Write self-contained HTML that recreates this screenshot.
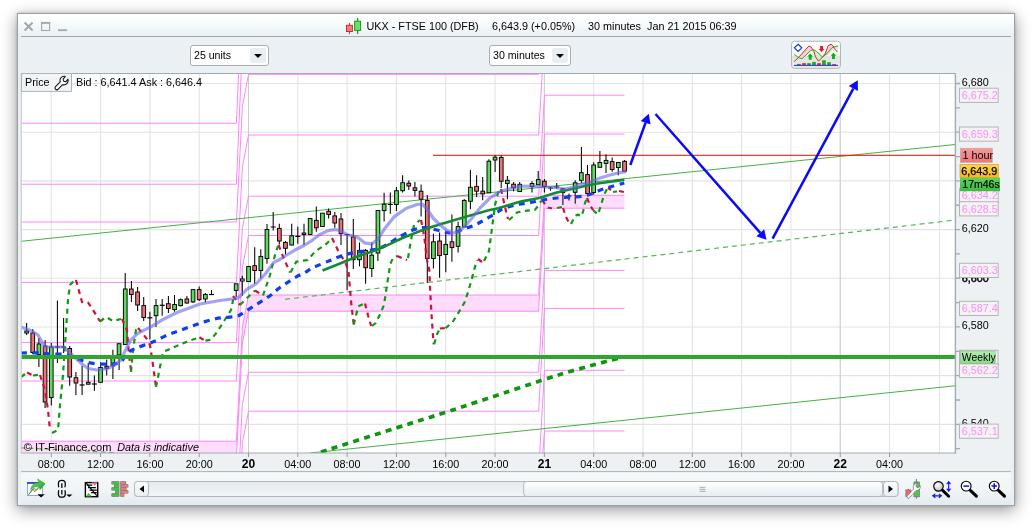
<!DOCTYPE html>
<html><head><meta charset="utf-8"><title>UKX - FTSE 100 (DFB)</title>
<style>
html,body{margin:0;padding:0;background:#fff;}
body{width:1032px;height:527px;overflow:hidden;position:relative;font-family:"Liberation Sans",sans-serif;font-size:11px;color:#000;}
#win{position:absolute;left:17px;top:13px;width:996px;height:491px;border:1px solid #9aa2a6;background:#eaf0f3;box-shadow:0 4px 15px rgba(0,0,0,.42), 0 0 3px rgba(0,0,0,.2);}
#title{position:absolute;left:0;top:0;width:996px;height:23px;background:linear-gradient(#ffffff,#f8fbfc 40%,#e8eff3);}
#tsep{position:absolute;left:3px;top:21.6px;width:990px;height:1px;background:#a3a8ab;}
#tool{position:absolute;left:0;top:24px;width:996px;height:36px;background:#eaf0f3;}
#bot{position:absolute;left:3px;top:459px;width:990px;height:32px;background:linear-gradient(#f6f9fa,#f1f5f7 50%,#e3ebef);}
#axr{position:absolute;left:938px;top:60px;width:55px;height:399px;background:#eef1f3;}
#axb{position:absolute;left:3px;top:440px;width:990px;height:17.3px;background:#eef1f3;border-bottom:1px solid #b4b8ba;}
svg{position:absolute;left:0;top:0;will-change:transform;}
svg text{font-family:"Liberation Sans",sans-serif;font-size:10.8px;fill:#000;}
.dd{position:absolute;top:45px;height:21px;border:1px solid #a9adb0;border-radius:3px;background:#fff;box-sizing:border-box;line-height:19px;padding-left:3px;font-size:10.6px;will-change:transform;}
.dd i{position:absolute;right:2px;top:2px;width:16px;height:15px;background:#e9eef2;border-radius:2px;}
.dd i:after{content:"";position:absolute;left:4px;top:6px;border-left:4px solid transparent;border-right:4px solid transparent;border-top:4.5px solid #000;}
</style></head><body>
<div id="win"><div id="title"></div><div id="tsep"></div><div id="tool"></div><div id="axr"></div><div id="axb"></div><div id="bot"></div></div>
<div class="dd" style="left:190px;width:79px;">25 units<i></i></div>
<div class="dd" style="left:489px;width:82px;">30 minutes<i></i></div>

<svg width="1032" height="527" viewBox="0 0 1032 527">
<rect x="21" y="73.5" width="934" height="379.5" fill="#fff"/>
<defs><clipPath id="cc"><rect x="21" y="73.5" width="934" height="379.5"/></clipPath></defs>
<g clip-path="url(#cc)">
<path d="M51.25 73.5V453 M100.56 73.5V453 M149.88 73.5V453 M199.19 73.5V453 M248.50 73.5V453 M297.81 73.5V453 M347.12 73.5V453 M396.44 73.5V453 M445.75 73.5V453 M495.06 73.5V453 M544.38 73.5V453 M593.69 73.5V453 M643.00 73.5V453 M692.31 73.5V453 M741.62 73.5V453 M790.94 73.5V453 M840.25 73.5V453 M889.56 73.5V453 M939.50 73.5V453 M21 83.50H955 M21 132.19H955 M21 180.88H955 M21 229.58H955 M21 278.27H955 M21 326.96H955 M21 375.65H955 M21 424.34H955" stroke="#e4e4e5" stroke-width="1.1" fill="none"/>
<path d="M248.50 73.5V453" stroke="#cdcdcd" stroke-width="1"/>
<path d="M544.38 73.5V453" stroke="#cdcdcd" stroke-width="1"/>
<path d="M840.25 73.5V453" stroke="#cdcdcd" stroke-width="1"/>
<path d="M21 441.2H236.4L242.4 327L248.5 295H538.6L544.5 195.3H624.5V208.2H544.5L538.6 311.2H248.5L242.4 343.2L236.4 457.2H21Z" fill="#ffdcfb"/>
<path d="M21 123.25H236.4L242.4 -16L248.5 -48H538.6 M21 184.25H236.4L242.4 45L248.5 13H538.6 M21 222H236.4L242.4 106.3L248.5 74.3H538.6 M21 282.4H236.4L242.4 167L248.5 135H538.6 M21 342.6H236.4L242.4 228.2L248.5 196.2H538.6 M21 381H236.4L242.4 267.5L248.5 235.5H538.6 M21 441.2H236.4L242.4 327L248.5 295H538.6 M21 457.2H236.4L242.4 343.2L248.5 311.2H538.6 M21 518H236.4L242.4 404.3L248.5 372.3H538.6 M21 556H236.4L242.4 443.2L248.5 411.2H538.6 M538.6 -48L544.5 -188 M538.6 13L544.5 -66H624.5 M538.6 74.3L544.5 -5H624.5 M538.6 135L544.5 34H624.5 M538.6 196.2L544.5 95.2H624.5 M538.6 235.5L544.5 134H624.5 M538.6 295L544.5 195.3H624.5 M538.6 311.2L544.5 208.2H624.5 M538.6 372.3L544.5 270.4H624.5 M538.6 411.2L544.5 308.4H624.5 M538.6 472.3L544.5 370.3H624.5 M538.6 511.2L544.5 431H624.5" stroke="#ff85ff" stroke-width="1" fill="none"/>
<path d="M21 241.3L955 144.5" stroke="#44b244" stroke-width="1" fill="none"/>
<path d="M310 453L955 385.8" stroke="#44b244" stroke-width="1" fill="none"/>
<path d="M285 299.3L955 220" stroke="#55b855" stroke-width="1.2" stroke-dasharray="5 4" fill="none"/>
<path d="M21 447.8C45 449 80 450.5 114 452.7" stroke="#4cb84c" stroke-width="1.2" stroke-dasharray="4.5 3.5" fill="none"/>
<path d="M433 155.3H955" stroke="#ff0000" stroke-width="1" fill="none"/>
<path d="M26.6 323V335" stroke="#000" stroke-width="1.05"/>
<rect x="24.8" y="331" width="3.7" height="2.0" fill="#5cdc5c" stroke="#000" stroke-width="0.95"/>
<path d="M32.8 329V354" stroke="#000" stroke-width="1.05"/>
<rect x="30.9" y="333" width="3.7" height="19.5" fill="#ee7272" stroke="#000" stroke-width="0.95"/>
<path d="M38.9 338V367" stroke="#000" stroke-width="1.05"/>
<rect x="37.1" y="344" width="3.7" height="10.5" fill="#5cdc5c" stroke="#000" stroke-width="0.95"/>
<path d="M45.1 340V408" stroke="#000" stroke-width="1.05"/>
<rect x="43.2" y="346" width="3.7" height="56.0" fill="#ee7272" stroke="#000" stroke-width="0.95"/>
<path d="M51.3 343V405.6" stroke="#000" stroke-width="1.05"/>
<rect x="49.4" y="347" width="3.7" height="50.6" fill="#5cdc5c" stroke="#000" stroke-width="0.95"/>
<path d="M57.4 300.5V363" stroke="#000" stroke-width="1.05"/>
<path d="M54.9 347H59.9" stroke="#000" stroke-width="1.2"/>
<path d="M63.6 318V353" stroke="#000" stroke-width="1.05"/>
<path d="M61.1 347H66.1" stroke="#000" stroke-width="1.2"/>
<path d="M69.7 346V385.7" stroke="#000" stroke-width="1.05"/>
<rect x="67.9" y="348.5" width="3.7" height="28.5" fill="#ee7272" stroke="#000" stroke-width="0.95"/>
<path d="M75.9 372V395" stroke="#000" stroke-width="1.05"/>
<rect x="74.1" y="377.7" width="3.7" height="5.3" fill="#ee7272" stroke="#000" stroke-width="0.95"/>
<path d="M82.1 365.7V395" stroke="#000" stroke-width="1.05"/>
<path d="M79.6 385H84.6" stroke="#000" stroke-width="1.2"/>
<path d="M88.2 363V384.5" stroke="#000" stroke-width="1.05"/>
<rect x="86.4" y="382.3" width="3.7" height="1.9" fill="#5cdc5c" stroke="#000" stroke-width="0.95"/>
<path d="M94.4 375.4V390.8" stroke="#000" stroke-width="1.05"/>
<path d="M91.9 384H96.9" stroke="#000" stroke-width="1.2"/>
<path d="M100.6 362.3V383" stroke="#000" stroke-width="1.05"/>
<rect x="98.7" y="367.5" width="3.7" height="14.8" fill="#5cdc5c" stroke="#000" stroke-width="0.95"/>
<path d="M106.7 359.5V375.4" stroke="#000" stroke-width="1.05"/>
<rect x="104.9" y="366.3" width="3.7" height="1.9" fill="#ee7272" stroke="#000" stroke-width="0.95"/>
<path d="M112.9 349.8V378.9" stroke="#000" stroke-width="1.05"/>
<rect x="111.0" y="357.5" width="3.7" height="8.3" fill="#5cdc5c" stroke="#000" stroke-width="0.95"/>
<path d="M119.1 343.7V370" stroke="#000" stroke-width="1.05"/>
<rect x="117.2" y="343.7" width="3.7" height="11.3" fill="#5cdc5c" stroke="#000" stroke-width="0.95"/>
<path d="M125.2 273V344.5" stroke="#000" stroke-width="1.05"/>
<rect x="123.4" y="289" width="3.7" height="55.5" fill="#5cdc5c" stroke="#000" stroke-width="0.95"/>
<path d="M131.4 281V302" stroke="#000" stroke-width="1.05"/>
<rect x="129.5" y="289" width="3.7" height="5.5" fill="#ee7272" stroke="#000" stroke-width="0.95"/>
<path d="M137.6 287V311" stroke="#000" stroke-width="1.05"/>
<rect x="135.7" y="292" width="3.7" height="13.0" fill="#ee7272" stroke="#000" stroke-width="0.95"/>
<path d="M143.7 297V321" stroke="#000" stroke-width="1.05"/>
<rect x="141.9" y="305.6" width="3.7" height="11.9" fill="#ee7272" stroke="#000" stroke-width="0.95"/>
<path d="M149.9 311.7V339.6" stroke="#000" stroke-width="1.05"/>
<path d="M147.4 317.8H152.4" stroke="#000" stroke-width="1.2"/>
<path d="M156.0 299V327" stroke="#000" stroke-width="1.05"/>
<rect x="154.2" y="305.6" width="3.7" height="10.1" fill="#5cdc5c" stroke="#000" stroke-width="0.95"/>
<path d="M162.2 299V315.7" stroke="#000" stroke-width="1.05"/>
<path d="M159.7 305.3H164.7" stroke="#000" stroke-width="1.2"/>
<path d="M168.4 296V313" stroke="#000" stroke-width="1.05"/>
<rect x="166.5" y="303.7" width="3.7" height="4.8" fill="#ee7272" stroke="#000" stroke-width="0.95"/>
<path d="M174.5 295V311.7" stroke="#000" stroke-width="1.05"/>
<rect x="172.7" y="304.5" width="3.7" height="5.1" fill="#5cdc5c" stroke="#000" stroke-width="0.95"/>
<path d="M180.7 298.5V306.5" stroke="#000" stroke-width="1.05"/>
<rect x="178.8" y="299.7" width="3.7" height="5.9" fill="#5cdc5c" stroke="#000" stroke-width="0.95"/>
<path d="M186.9 296V303.7" stroke="#000" stroke-width="1.05"/>
<rect x="185.0" y="299" width="3.7" height="4.0" fill="#ee7272" stroke="#000" stroke-width="0.95"/>
<path d="M193.0 289.6V303" stroke="#000" stroke-width="1.05"/>
<rect x="191.2" y="289.6" width="3.7" height="12.3" fill="#5cdc5c" stroke="#000" stroke-width="0.95"/>
<path d="M199.2 286.4V301" stroke="#000" stroke-width="1.05"/>
<rect x="197.3" y="289.6" width="3.7" height="10.1" fill="#ee7272" stroke="#000" stroke-width="0.95"/>
<path d="M205.4 293V302.4" stroke="#000" stroke-width="1.05"/>
<rect x="203.5" y="294.4" width="3.7" height="4.6" fill="#5cdc5c" stroke="#000" stroke-width="0.95"/>
<path d="M211.5 290V294.5" stroke="#000" stroke-width="1.05"/>
<path d="M209.0 294.5H214.0" stroke="#000" stroke-width="1.2"/>
<path d="M236.2 283.8V297" stroke="#000" stroke-width="1.05"/>
<rect x="234.3" y="283.8" width="3.7" height="6.6" fill="#5cdc5c" stroke="#000" stroke-width="0.95"/>
<path d="M242.3 275.8V295.7" stroke="#000" stroke-width="1.05"/>
<rect x="240.5" y="279" width="3.7" height="2.0" fill="#d8d8d8" stroke="#000" stroke-width="0.95"/>
<path d="M248.5 266.5V281.6" stroke="#000" stroke-width="1.05"/>
<rect x="246.7" y="266.5" width="3.7" height="15.1" fill="#5cdc5c" stroke="#000" stroke-width="0.95"/>
<path d="M254.7 247.3V283.8" stroke="#000" stroke-width="1.05"/>
<rect x="252.8" y="265.7" width="3.7" height="4.8" fill="#ee7272" stroke="#000" stroke-width="0.95"/>
<path d="M260.8 249.2V278.5" stroke="#000" stroke-width="1.05"/>
<rect x="259.0" y="256.4" width="3.7" height="14.1" fill="#5cdc5c" stroke="#000" stroke-width="0.95"/>
<path d="M267.0 224V263.8" stroke="#000" stroke-width="1.05"/>
<rect x="265.1" y="229.5" width="3.7" height="29.0" fill="#5cdc5c" stroke="#000" stroke-width="0.95"/>
<path d="M273.2 211.9V230.5" stroke="#000" stroke-width="1.05"/>
<path d="M270.7 227H275.7" stroke="#000" stroke-width="1.2"/>
<path d="M279.3 223.8V244.6" stroke="#000" stroke-width="1.05"/>
<rect x="277.5" y="228.4" width="3.7" height="12.6" fill="#ee7272" stroke="#000" stroke-width="0.95"/>
<path d="M285.5 241V254.4" stroke="#000" stroke-width="1.05"/>
<rect x="283.6" y="242.4" width="3.7" height="5.9" fill="#ee7272" stroke="#000" stroke-width="0.95"/>
<path d="M291.7 223.8V245.6" stroke="#000" stroke-width="1.05"/>
<rect x="289.8" y="235.8" width="3.7" height="9.2" fill="#5cdc5c" stroke="#000" stroke-width="0.95"/>
<path d="M297.8 226.5V243.8" stroke="#000" stroke-width="1.05"/>
<path d="M295.3 236.3H300.3" stroke="#000" stroke-width="1.2"/>
<path d="M304.0 223.8V245" stroke="#000" stroke-width="1.05"/>
<rect x="302.1" y="233" width="3.7" height="1.5" fill="#5cdc5c" stroke="#000" stroke-width="0.95"/>
<path d="M310.1 218.5V234.5" stroke="#000" stroke-width="1.05"/>
<rect x="308.3" y="218.5" width="3.7" height="16.0" fill="#5cdc5c" stroke="#000" stroke-width="0.95"/>
<path d="M316.3 206.5V231.8" stroke="#000" stroke-width="1.05"/>
<rect x="314.5" y="220.4" width="3.7" height="7.4" fill="#ee7272" stroke="#000" stroke-width="0.95"/>
<path d="M322.5 213.2V226.5" stroke="#000" stroke-width="1.05"/>
<rect x="320.6" y="213.2" width="3.7" height="13.3" fill="#5cdc5c" stroke="#000" stroke-width="0.95"/>
<path d="M328.6 208.4V218.5" stroke="#000" stroke-width="1.05"/>
<rect x="326.8" y="211.3" width="3.7" height="3.2" fill="#ee7272" stroke="#000" stroke-width="0.95"/>
<path d="M334.8 211.9V227.8" stroke="#000" stroke-width="1.05"/>
<rect x="332.9" y="215.9" width="3.7" height="7.1" fill="#ee7272" stroke="#000" stroke-width="0.95"/>
<path d="M341.0 213V245" stroke="#000" stroke-width="1.05"/>
<rect x="339.1" y="219" width="3.7" height="14.7" fill="#ee7272" stroke="#000" stroke-width="0.95"/>
<path d="M347.1 234.5V290.3" stroke="#000" stroke-width="1.05"/>
<path d="M344.6 234.5H349.6" stroke="#000" stroke-width="1.2"/>
<path d="M353.3 219V269" stroke="#000" stroke-width="1.05"/>
<rect x="351.4" y="237" width="3.7" height="22.7" fill="#ee7272" stroke="#000" stroke-width="0.95"/>
<path d="M359.5 242.4V266.4" stroke="#000" stroke-width="1.05"/>
<rect x="357.6" y="250.4" width="3.7" height="9.3" fill="#5cdc5c" stroke="#000" stroke-width="0.95"/>
<path d="M365.6 249V283.7" stroke="#000" stroke-width="1.05"/>
<rect x="363.8" y="250.4" width="3.7" height="17.3" fill="#ee7272" stroke="#000" stroke-width="0.95"/>
<path d="M371.8 242.4V277" stroke="#000" stroke-width="1.05"/>
<rect x="369.9" y="255.2" width="3.7" height="13.3" fill="#5cdc5c" stroke="#000" stroke-width="0.95"/>
<path d="M377.9 210.5V261" stroke="#000" stroke-width="1.05"/>
<rect x="376.1" y="210.5" width="3.7" height="42.5" fill="#5cdc5c" stroke="#000" stroke-width="0.95"/>
<path d="M384.1 192.8V221.5" stroke="#000" stroke-width="1.05"/>
<rect x="382.3" y="204.2" width="3.7" height="6.4" fill="#5cdc5c" stroke="#000" stroke-width="0.95"/>
<path d="M390.3 192.5V213.8" stroke="#000" stroke-width="1.05"/>
<path d="M387.8 204.5H392.8" stroke="#000" stroke-width="1.2"/>
<path d="M396.4 187V211" stroke="#000" stroke-width="1.05"/>
<rect x="394.6" y="190.7" width="3.7" height="13.8" fill="#5cdc5c" stroke="#000" stroke-width="0.95"/>
<path d="M402.6 175.3V192.5" stroke="#000" stroke-width="1.05"/>
<rect x="400.8" y="182.7" width="3.7" height="8.0" fill="#5cdc5c" stroke="#000" stroke-width="0.95"/>
<path d="M408.8 180.6V190" stroke="#000" stroke-width="1.05"/>
<rect x="406.9" y="183.2" width="3.7" height="2.8" fill="#ee7272" stroke="#000" stroke-width="0.95"/>
<path d="M414.9 182V196.5" stroke="#000" stroke-width="1.05"/>
<rect x="413.1" y="187.8" width="3.7" height="2.6" fill="#ee7272" stroke="#000" stroke-width="0.95"/>
<path d="M421.1 184.6V216.5" stroke="#000" stroke-width="1.05"/>
<rect x="419.2" y="191.2" width="3.7" height="8.0" fill="#ee7272" stroke="#000" stroke-width="0.95"/>
<path d="M427.3 195V283" stroke="#000" stroke-width="1.05"/>
<rect x="425.4" y="200.5" width="3.7" height="58.0" fill="#ee7272" stroke="#000" stroke-width="0.95"/>
<path d="M433.4 233.8V268.4" stroke="#000" stroke-width="1.05"/>
<rect x="431.6" y="241.8" width="3.7" height="16.7" fill="#5cdc5c" stroke="#000" stroke-width="0.95"/>
<path d="M439.6 232.4V277.7" stroke="#000" stroke-width="1.05"/>
<rect x="437.7" y="241" width="3.7" height="14.6" fill="#ee7272" stroke="#000" stroke-width="0.95"/>
<path d="M445.8 231V272.3" stroke="#000" stroke-width="1.05"/>
<rect x="443.9" y="244.4" width="3.7" height="10.1" fill="#5cdc5c" stroke="#000" stroke-width="0.95"/>
<path d="M451.9 214.6V261.7" stroke="#000" stroke-width="1.05"/>
<rect x="450.1" y="241.8" width="3.7" height="5.8" fill="#ee7272" stroke="#000" stroke-width="0.95"/>
<path d="M458.1 221.8V252.4" stroke="#000" stroke-width="1.05"/>
<rect x="456.2" y="226.6" width="3.7" height="19.7" fill="#5cdc5c" stroke="#000" stroke-width="0.95"/>
<path d="M464.2 199V227" stroke="#000" stroke-width="1.05"/>
<rect x="462.4" y="200.5" width="3.7" height="26.5" fill="#5cdc5c" stroke="#000" stroke-width="0.95"/>
<path d="M470.4 170V209.3" stroke="#000" stroke-width="1.05"/>
<rect x="468.6" y="187.3" width="3.7" height="14.0" fill="#5cdc5c" stroke="#000" stroke-width="0.95"/>
<path d="M476.6 175.2V197" stroke="#000" stroke-width="1.05"/>
<rect x="474.7" y="186.4" width="3.7" height="4.8" fill="#ee7272" stroke="#000" stroke-width="0.95"/>
<path d="M482.7 177V200.3" stroke="#000" stroke-width="1.05"/>
<rect x="480.9" y="191.2" width="3.7" height="2.7" fill="#ee7272" stroke="#000" stroke-width="0.95"/>
<path d="M488.9 159.3V193" stroke="#000" stroke-width="1.05"/>
<rect x="487.0" y="161.2" width="3.7" height="31.6" fill="#5cdc5c" stroke="#000" stroke-width="0.95"/>
<path d="M495.1 155.2V172" stroke="#000" stroke-width="1.05"/>
<rect x="493.2" y="157.2" width="3.7" height="2.8" fill="#5cdc5c" stroke="#000" stroke-width="0.95"/>
<path d="M501.2 155.2V188" stroke="#000" stroke-width="1.05"/>
<rect x="499.4" y="157.4" width="3.7" height="23.8" fill="#ee7272" stroke="#000" stroke-width="0.95"/>
<path d="M507.4 176V199.2" stroke="#000" stroke-width="1.05"/>
<rect x="505.5" y="180.3" width="3.7" height="3.1" fill="#5cdc5c" stroke="#000" stroke-width="0.95"/>
<path d="M513.6 182V191.3" stroke="#000" stroke-width="1.05"/>
<rect x="511.7" y="184.2" width="3.7" height="3.6" fill="#ee7272" stroke="#000" stroke-width="0.95"/>
<path d="M519.7 182V192" stroke="#000" stroke-width="1.05"/>
<rect x="517.9" y="184.3" width="3.7" height="7.2" fill="#5cdc5c" stroke="#000" stroke-width="0.95"/>
<path d="M532.0 181.2V192.6" stroke="#000" stroke-width="1.05"/>
<rect x="530.2" y="183.5" width="3.7" height="3.0" fill="#5cdc5c" stroke="#000" stroke-width="0.95"/>
<path d="M538.2 171V185" stroke="#000" stroke-width="1.05"/>
<rect x="536.4" y="179.6" width="3.7" height="5.2" fill="#5cdc5c" stroke="#000" stroke-width="0.95"/>
<path d="M544.4 179V192.6" stroke="#000" stroke-width="1.05"/>
<rect x="542.5" y="181.2" width="3.7" height="5.3" fill="#ee7272" stroke="#000" stroke-width="0.95"/>
<path d="M550.5 187V190.7" stroke="#000" stroke-width="1.05"/>
<path d="M548.0 188H553.0" stroke="#000" stroke-width="1.2"/>
<path d="M556.7 183V188.8" stroke="#000" stroke-width="1.05"/>
<path d="M554.2 187H559.2" stroke="#000" stroke-width="1.2"/>
<path d="M562.9 187.9V205" stroke="#000" stroke-width="1.05"/>
<rect x="561.0" y="188.8" width="3.7" height="3.8" fill="#ee7272" stroke="#000" stroke-width="0.95"/>
<path d="M569.0 193.6V200.6" stroke="#000" stroke-width="1.05"/>
<path d="M566.5 196H571.5" stroke="#000" stroke-width="1.2"/>
<path d="M575.2 180.3V203.7" stroke="#000" stroke-width="1.05"/>
<rect x="573.3" y="182.8" width="3.7" height="9.5" fill="#5cdc5c" stroke="#000" stroke-width="0.95"/>
<path d="M581.4 147V182.8" stroke="#000" stroke-width="1.05"/>
<rect x="579.5" y="172.7" width="3.7" height="7.6" fill="#5cdc5c" stroke="#000" stroke-width="0.95"/>
<path d="M587.5 165V193.6" stroke="#000" stroke-width="1.05"/>
<rect x="585.7" y="174.6" width="3.7" height="19.0" fill="#ee7272" stroke="#000" stroke-width="0.95"/>
<path d="M593.7 162.3V194.5" stroke="#000" stroke-width="1.05"/>
<rect x="591.8" y="165" width="3.7" height="27.5" fill="#5cdc5c" stroke="#000" stroke-width="0.95"/>
<path d="M599.9 151V167.3" stroke="#000" stroke-width="1.05"/>
<rect x="598.0" y="162.5" width="3.7" height="4.8" fill="#5cdc5c" stroke="#000" stroke-width="0.95"/>
<path d="M606.0 154.2V173" stroke="#000" stroke-width="1.05"/>
<rect x="604.2" y="160.4" width="3.7" height="3.0" fill="#5cdc5c" stroke="#000" stroke-width="0.95"/>
<path d="M612.2 157.5V171.8" stroke="#000" stroke-width="1.05"/>
<rect x="610.3" y="161.6" width="3.7" height="7.9" fill="#ee7272" stroke="#000" stroke-width="0.95"/>
<path d="M618.3 162.5V175.3" stroke="#000" stroke-width="1.05"/>
<rect x="616.5" y="162.5" width="3.7" height="5.0" fill="#5cdc5c" stroke="#000" stroke-width="0.95"/>
<path d="M624.5 160V171.2" stroke="#000" stroke-width="1.05"/>
<rect x="622.7" y="161.3" width="3.7" height="9.9" fill="#ee7272" stroke="#000" stroke-width="0.95"/>
<path d="M21.0 377.0 L27.0 372.5" stroke="#109a10" stroke-width="2.2" stroke-dasharray="5 4.5" fill="none"/>
<path d="M27.0 372.5 L33.0 375.5" stroke="#d0103c" stroke-width="2.2" stroke-dasharray="5 4.5" fill="none"/>
<path d="M33.0 375.5 L40.0 374.5" stroke="#109a10" stroke-width="2.2" stroke-dasharray="5 4.5" fill="none"/>
<path d="M40.0 375.0 L45.0 390.0 L48.0 410.0 L50.0 430.0" stroke="#d0103c" stroke-width="2.2" stroke-dasharray="5 4.5" fill="none"/>
<path d="M52.0 433.0 L58.0 430.0 L60.0 405.0 L63.0 375.0 L66.0 330.0 L68.0 300.0 L70.0 285.0 L75.0 279.5" stroke="#109a10" stroke-width="2.2" stroke-dasharray="5 4.5" fill="none"/>
<path d="M76.0 280.0 L82.0 302.0 L88.0 302.5 L93.0 310.0 L100.0 321.5" stroke="#d0103c" stroke-width="2.2" stroke-dasharray="5 4.5" fill="none"/>
<path d="M100.0 321.5 L106.0 317.0 L113.0 321.0 L121.0 319.0" stroke="#109a10" stroke-width="2.2" stroke-dasharray="5 4.5" fill="none"/>
<path d="M122.0 319.0 L127.0 330.0 L129.0 355.0 L131.0 370.0" stroke="#d0103c" stroke-width="2.2" stroke-dasharray="5 4.5" fill="none"/>
<path d="M131.0 372.0 L133.0 350.0 L136.0 330.0 L138.0 327.0" stroke="#109a10" stroke-width="2.2" stroke-dasharray="5 4.5" fill="none"/>
<path d="M138.0 328.0 L147.0 339.0 L150.0 345.0 L153.0 365.0 L156.0 387.0" stroke="#d0103c" stroke-width="2.2" stroke-dasharray="5 4.5" fill="none"/>
<path d="M156.0 387.0 L160.0 367.0 L163.0 352.0 L170.0 349.0 L180.0 344.5 L190.0 340.5 L199.0 337.5" stroke="#109a10" stroke-width="2.2" stroke-dasharray="5 4.5" fill="none"/>
<path d="M199.4 337.3 L204.5 340.4" stroke="#d0103c" stroke-width="2.2" stroke-dasharray="5 4.5" fill="none"/>
<path d="M205.4 340.7 L210.5 339.9 L215.6 333.9 L222.4 323.7 L231.0 310.0 L233.5 298.0" stroke="#109a10" stroke-width="2.2" stroke-dasharray="5 4.5" fill="none"/>
<path d="M233.0 296.0 L240.0 305.0" stroke="#d0103c" stroke-width="2.2" stroke-dasharray="5 4.5" fill="none"/>
<path d="M240.0 305.0 L247.0 298.0 L255.0 290.5" stroke="#109a10" stroke-width="2.2" stroke-dasharray="5 4.5" fill="none"/>
<path d="M255.0 290.5 L263.0 295.5" stroke="#d0103c" stroke-width="2.2" stroke-dasharray="5 4.5" fill="none"/>
<path d="M263.0 295.5 L270.0 275.0 L275.0 255.0 L278.0 246.0" stroke="#109a10" stroke-width="2.2" stroke-dasharray="5 4.5" fill="none"/>
<path d="M278.5 245.0 L284.0 258.8 L290.0 272.5" stroke="#d0103c" stroke-width="2.2" stroke-dasharray="5 4.5" fill="none"/>
<path d="M290.5 272.5 L296.3 261.7 L307.7 260.0 L315.3 251.2 L325.0 245.0 L331.0 239.5" stroke="#109a10" stroke-width="2.2" stroke-dasharray="5 4.5" fill="none"/>
<path d="M332.0 238.0 L338.5 251.5 L345.0 262.0 L348.4 270.0 L349.9 288.0 L351.4 305.0 L353.7 324.0" stroke="#d0103c" stroke-width="2.2" stroke-dasharray="5 4.5" fill="none"/>
<path d="M353.7 324.7 L358.2 306.4 L362.8 304.2 L365.0 303.4" stroke="#109a10" stroke-width="2.2" stroke-dasharray="5 4.5" fill="none"/>
<path d="M365.0 303.4 L368.1 315.6 L371.1 325.9" stroke="#d0103c" stroke-width="2.2" stroke-dasharray="5 4.5" fill="none"/>
<path d="M372.0 326.0 L375.7 323.1 L380.2 314.0 L384.0 305.0 L386.3 289.7 L388.6 274.6 L390.3 264.0 L393.0 258.0 L397.0 256.0" stroke="#109a10" stroke-width="2.2" stroke-dasharray="5 4.5" fill="none"/>
<path d="M397.0 256.0 L407.0 260.0" stroke="#d0103c" stroke-width="2.2" stroke-dasharray="5 4.5" fill="none"/>
<path d="M408.0 258.0 L411.0 240.0 L414.0 225.0 L420.0 220.0" stroke="#109a10" stroke-width="2.2" stroke-dasharray="5 4.5" fill="none"/>
<path d="M421.0 220.0 L424.0 235.0 L427.0 260.0 L429.3 270.0 L430.3 292.8 L431.6 315.6 L433.4 341.4 L433.8 344.4" stroke="#d0103c" stroke-width="2.2" stroke-dasharray="5 4.5" fill="none"/>
<path d="M434.1 344.1 L437.2 333.8 L439.9 328.5" stroke="#109a10" stroke-width="2.2" stroke-dasharray="5 4.5" fill="none"/>
<path d="M439.9 328.5 L444.8 328.2" stroke="#d0103c" stroke-width="2.2" stroke-dasharray="5 4.5" fill="none"/>
<path d="M445.5 328.2 L452.4 322.4 L460.0 310.2 L464.5 302.6 L468.3 291.3 L472.1 277.6 L474.4 269.0 L477.0 260.0" stroke="#109a10" stroke-width="2.2" stroke-dasharray="5 4.5" fill="none"/>
<path d="M478.0 259.0 L482.0 262.0" stroke="#d0103c" stroke-width="2.2" stroke-dasharray="5 4.5" fill="none"/>
<path d="M484.0 261.0 L489.0 251.0 L492.0 228.0 L495.0 205.0 L498.0 193.0 L501.0 188.5" stroke="#109a10" stroke-width="2.2" stroke-dasharray="5 4.5" fill="none"/>
<path d="M501.0 189.0 L505.0 207.0 L508.0 219.0" stroke="#d0103c" stroke-width="2.2" stroke-dasharray="5 4.5" fill="none"/>
<path d="M509.0 220.0 L513.0 216.5 L517.0 212.5 L524.0 211.0 L535.0 209.7 L539.0 205.0 L541.0 201.0" stroke="#109a10" stroke-width="2.2" stroke-dasharray="5 4.5" fill="none"/>
<path d="M542.0 200.0 L545.0 204.0 L548.0 207.5 L552.0 208.5" stroke="#d0103c" stroke-width="2.2" stroke-dasharray="5 4.5" fill="none"/>
<path d="M557.0 208.0 L562.0 207.0" stroke="#109a10" stroke-width="2.2" stroke-dasharray="5 4.5" fill="none"/>
<path d="M563.0 208.0 L566.0 217.0 L570.0 224.5" stroke="#d0103c" stroke-width="2.2" stroke-dasharray="5 4.5" fill="none"/>
<path d="M571.0 224.0 L575.0 216.0 L578.0 214.5 L581.0 216.5 L583.0 212.0 L585.0 203.0 L587.0 198.0" stroke="#109a10" stroke-width="2.2" stroke-dasharray="5 4.5" fill="none"/>
<path d="M587.0 198.0 L590.0 205.0 L593.0 210.0" stroke="#d0103c" stroke-width="2.2" stroke-dasharray="5 4.5" fill="none"/>
<path d="M593.0 210.0 L598.0 214.5 L601.0 205.0 L604.0 195.0 L607.0 189.0" stroke="#109a10" stroke-width="2.2" stroke-dasharray="5 4.5" fill="none"/>
<path d="M608.0 188.0 L611.0 190.0" stroke="#d0103c" stroke-width="2.2" stroke-dasharray="5 4.5" fill="none"/>
<path d="M613.0 192.0 L617.0 191.5" stroke="#109a10" stroke-width="2.2" stroke-dasharray="5 4.5" fill="none"/>
<path d="M619.0 191.0 L624.0 192.0" stroke="#d0103c" stroke-width="2.2" stroke-dasharray="5 4.5" fill="none"/>
<path d="M321.0 452.0 C333.5 448.0 375.3 434.6 396.0 428.0 C416.7 421.4 429.8 417.4 445.0 412.5 C460.2 407.6 468.3 404.8 487.5 398.5 C506.7 392.2 537.8 381.3 560.0 374.5 C582.2 367.7 610.8 360.3 621.0 357.5" stroke="#0e960e" stroke-width="3.7" stroke-dasharray="6 5.3" fill="none"/>
<path d="M21.0 353.0 C24.2 353.0 35.2 352.8 40.0 353.0 C44.8 353.2 46.0 353.8 50.0 354.0 C54.0 354.2 59.8 353.8 64.0 354.5 C68.2 355.2 71.0 356.7 75.0 358.0 C79.0 359.3 83.8 361.5 88.0 362.5 C92.2 363.5 96.0 363.8 100.0 364.0 C104.0 364.2 108.5 364.3 112.0 364.0 C115.5 363.7 118.5 363.8 121.0 362.0 C123.5 360.2 124.4 355.8 126.8 353.5 C129.2 351.2 132.0 350.0 135.4 348.4 C138.8 346.8 143.9 345.4 147.3 344.1 C150.7 342.8 152.5 342.2 155.9 340.7 C159.3 339.1 163.8 336.5 167.8 334.8 C171.8 333.1 175.8 331.9 179.8 330.5 C183.8 329.1 187.7 327.6 191.7 326.2 C195.7 324.8 199.7 323.2 203.7 322.0 C207.7 320.8 211.9 319.5 215.6 318.7 C219.3 317.9 222.3 317.8 225.9 317.4 C229.5 317.0 233.8 317.1 237.0 316.2 C240.2 315.2 241.6 313.8 245.0 311.7 C248.4 309.6 253.3 306.4 257.5 303.8 C261.7 301.1 266.2 298.4 270.0 295.7 C273.8 293.0 275.7 290.6 280.0 287.5 C284.3 284.4 291.8 279.5 296.0 277.0 C300.2 274.5 302.2 274.1 305.0 272.5 C307.8 270.9 308.8 269.7 313.0 267.7 C317.2 265.7 325.1 262.5 330.0 260.5 C334.9 258.5 338.3 256.8 342.5 255.5 C346.7 254.2 348.8 253.8 355.0 252.5 C361.2 251.2 372.3 250.8 380.0 248.0 C387.7 245.2 395.2 239.1 401.0 236.0 C406.8 232.9 410.5 230.9 414.5 229.5 C418.5 228.1 420.6 227.4 425.0 227.7 C429.4 227.9 436.5 230.1 441.0 231.0 C445.5 231.9 448.0 233.4 452.0 233.0 C456.0 232.6 461.0 229.9 465.0 228.5 C469.0 227.1 472.5 226.1 476.0 224.5 C479.5 222.9 482.5 221.0 486.0 219.0 C489.5 217.0 494.2 214.2 497.0 212.5 C499.8 210.8 499.7 210.0 503.0 208.7 C506.3 207.4 512.8 205.5 517.0 204.6 C521.2 203.7 524.5 203.7 528.5 203.0 C532.5 202.3 536.2 201.0 541.0 200.2 C545.8 199.4 551.2 198.6 557.0 198.0 C562.8 197.4 571.0 197.2 576.0 196.8 C581.0 196.4 583.2 196.5 587.0 195.5 C590.8 194.5 594.9 192.1 598.7 190.7 C602.5 189.3 605.7 188.3 610.0 187.0 C614.3 185.7 621.9 183.7 624.3 183.0" stroke="#0f3df0" stroke-width="3.2" stroke-dasharray="6 5.5" fill="none"/>
<path d="M322.5 270.5 C325.8 269.2 336.2 265.0 342.5 262.5 C348.8 260.0 353.8 257.8 360.0 255.5 C366.2 253.2 372.5 251.7 380.0 248.6 C387.5 245.5 396.2 240.7 405.0 237.0 C413.8 233.3 423.8 229.6 433.0 226.5 C442.2 223.4 451.2 221.1 460.0 218.5 C468.8 215.9 479.3 212.8 486.0 211.0 C492.7 209.2 494.5 209.3 500.0 207.8 C505.5 206.3 512.7 203.6 519.0 202.0 C525.3 200.4 531.7 199.9 538.0 198.3 C544.3 196.7 550.7 194.3 557.0 192.6 C563.3 190.9 569.7 189.3 576.0 187.9 C582.3 186.5 588.7 185.1 595.0 184.0 C601.3 182.9 609.1 181.9 614.0 181.2 C618.9 180.5 622.6 179.9 624.3 179.7" stroke="#158a35" stroke-width="2.6" fill="none"/>
<path d="M21.0 327.0 L32.0 331.0 L38.0 335.0 L45.0 347.0 L57.0 347.0 L64.0 347.0 L70.0 353.0 L82.0 364.0 L88.0 368.5 L97.0 370.0 L106.0 369.0 L113.0 366.0 L121.0 360.0 L125.1 351.0 L130.2 340.7 L137.1 333.9 L143.0 330.6 L149.0 327.9 L162.7 319.6 L177.0 312.5 L200.0 304.0 L220.0 300.5 L236.0 298.5 L239.4 296.8 L247.0 289.2 L256.5 283.5 L266.0 273.0 L273.5 262.6 L279.2 259.8 L285.0 256.0 L294.4 250.3 L304.0 245.5 L311.5 240.8 L319.0 235.0 L328.0 230.6 L335.0 229.5 L339.8 230.5 L347.2 234.7 L357.0 236.7 L364.4 242.8 L371.9 244.1 L378.0 239.1 L384.2 229.3 L394.0 216.9 L406.4 208.3 L417.0 204.5 L422.0 204.0 L427.0 209.0 L433.0 218.0 L440.0 225.0 L447.0 230.5 L453.0 233.0 L458.0 232.0 L465.0 226.0 L472.0 218.0 L480.0 208.0 L490.0 198.0 L500.0 191.5 L510.0 188.5 L520.0 186.0 L540.0 186.5 L555.0 187.5 L565.0 189.0 L572.0 187.5 L580.0 185.0 L590.0 182.0 L600.0 178.0 L610.0 175.0 L620.0 172.5 L625.0 171.8" stroke="#6666eb" stroke-opacity="0.6" stroke-width="3.2" fill="none" stroke-linecap="round" stroke-linejoin="round"/>
<path d="M21 357H955" stroke="#2ea62e" stroke-width="3.8" fill="none"/>
<path d="M630.3 165.0L645.6 122.6" stroke="#0a0af5" stroke-width="2.5" fill="none"/><path d="M648.8 113.8L650.5 124.4L640.7 120.9Z" fill="#0a0af5"/>
<path d="M655.5 114.0L760.3 232.8" stroke="#0a0af5" stroke-width="2.5" fill="none"/><path d="M766.5 239.8L756.4 236.2L764.2 229.3Z" fill="#0a0af5"/>
<path d="M772.6 238.7L853.3 88.6" stroke="#0a0af5" stroke-width="2.5" fill="none"/><path d="M857.8 80.3L857.9 91.0L848.8 86.1Z" fill="#0a0af5"/>
</g>
<path d="M21 73.5H955.5M955.5 453H21" stroke="#a3abb1" stroke-width="1.2" fill="none"/>
<path d="M955.4 73.5V453.5" stroke="#a3abb1" stroke-width="1.4" fill="none"/>
<path d="M21.3 73.5V453" stroke="#c5cacd" stroke-width="1" fill="none"/>
<path d="M955 83.50h5 M955 107.85h5 M955 132.19h5 M955 156.54h5 M955 180.88h5 M955 205.23h5 M955 229.58h5 M955 253.92h5 M955 278.27h5 M955 302.61h5 M955 326.96h5 M955 351.31h5 M955 375.65h5 M955 400.00h5 M955 424.34h5 M955 448.69h5" stroke="#a3abb1" stroke-width="1.3"/>
<text x="961.8" y="85.9">6,680</text>
<text x="961.8" y="232.0">6,620</text>
<text x="961.8" y="282.3" style="stroke:#000;stroke-width:0.45">6,600</text>
<text x="961.8" y="329.4">6,580</text>
<text x="961.8" y="426.7">6,540</text>
<rect x="959.5" y="88.2" width="38.7" height="14.2" fill="#f3f3f3" stroke="#b5b5b5" stroke-width="1"/>
<text x="961.8" y="99.0" style="fill:#ff8cff">6,675.2</text>
<rect x="959.5" y="127.0" width="38.7" height="14.2" fill="#f3f3f3" stroke="#b5b5b5" stroke-width="1"/>
<text x="961.8" y="137.8" style="fill:#ff8cff">6,659.3</text>
<rect x="959.5" y="188.3" width="38.7" height="14.2" fill="#f3f3f3" stroke="#b5b5b5" stroke-width="1"/>
<text x="961.8" y="199.1" style="fill:#ff8cff">6,634.2</text>
<rect x="959.5" y="201.7" width="38.7" height="14.2" fill="#f3f3f3" stroke="#b5b5b5" stroke-width="1"/>
<text x="961.8" y="212.5" style="fill:#ff8cff">6,628.5</text>
<rect x="959.5" y="263.3" width="38.7" height="14.2" fill="#f3f3f3" stroke="#b5b5b5" stroke-width="1"/>
<text x="961.8" y="274.1" style="fill:#ff8cff">6,603.3</text>
<rect x="959.5" y="301.3" width="38.7" height="14.2" fill="#f3f3f3" stroke="#b5b5b5" stroke-width="1"/>
<text x="961.8" y="312.1" style="fill:#ff8cff">6,587.4</text>
<rect x="959.5" y="363.4" width="38.7" height="14.2" fill="#f3f3f3" stroke="#b5b5b5" stroke-width="1"/>
<text x="961.8" y="374.2" style="fill:#ff8cff">6,562.2</text>
<rect x="959.5" y="424.1" width="38.7" height="14.2" fill="#f3f3f3" stroke="#b5b5b5" stroke-width="1"/>
<text x="961.8" y="434.9" style="fill:#ff8cff">6,537.1</text>
<defs><linearGradient id="gr" x1="0" y1="0" x2="0" y2="1"><stop offset="0" stop-color="#f59a9a"/><stop offset="1" stop-color="#ec7777"/></linearGradient><linearGradient id="gy" x1="0" y1="0" x2="0" y2="1"><stop offset="0" stop-color="#ffd24a"/><stop offset="1" stop-color="#fdb515"/></linearGradient><linearGradient id="gg" x1="0" y1="0" x2="0" y2="1"><stop offset="0" stop-color="#5fd35f"/><stop offset="1" stop-color="#3bbd3b"/></linearGradient><linearGradient id="gw" x1="0" y1="0" x2="0" y2="1"><stop offset="0" stop-color="#b5ecb5"/><stop offset="1" stop-color="#86dc86"/></linearGradient></defs>
<rect x="960.3" y="148.2" width="32" height="14.2" fill="url(#gr)" stroke="#c9a0a0" stroke-width="0.6"/>
<text x="962.5" y="159.2">1 hour</text>
<rect x="960" y="164.4" width="38.3" height="13.6" fill="url(#gy)" stroke="#b79b40" stroke-width="0.6"/>
<text x="961.3" y="175.2" style="stroke:#000;stroke-width:0.25">6,643.9</text>
<rect x="960" y="177.6" width="40" height="13.6" fill="url(#gg)"/>
<text x="962.3" y="188.4" style="stroke:#000;stroke-width:0.2;font-size:10.5px">17m46s</text>
<rect x="959.5" y="350.3" width="38.5" height="13.6" fill="#f3f3f3" stroke="#b5b5b5" stroke-width="1"/>
<rect x="960.2" y="351" width="35" height="12.4" fill="url(#gw)" stroke="#8fae8f" stroke-width="0.6"/>
<text x="961.8" y="361.4" style="font-size:10.4px">Weekly</text>
<text x="51.2" y="467.5" text-anchor="middle">08:00</text>
<text x="100.6" y="467.5" text-anchor="middle">12:00</text>
<text x="149.9" y="467.5" text-anchor="middle">16:00</text>
<text x="199.2" y="467.5" text-anchor="middle">20:00</text>
<text x="248.5" y="467.5" text-anchor="middle" style="font-weight:bold;font-size:12px">20</text>
<text x="297.8" y="467.5" text-anchor="middle">04:00</text>
<text x="347.1" y="467.5" text-anchor="middle">08:00</text>
<text x="396.4" y="467.5" text-anchor="middle">12:00</text>
<text x="445.8" y="467.5" text-anchor="middle">16:00</text>
<text x="495.1" y="467.5" text-anchor="middle">20:00</text>
<text x="544.4" y="467.5" text-anchor="middle" style="font-weight:bold;font-size:12px">21</text>
<text x="593.7" y="467.5" text-anchor="middle">04:00</text>
<text x="643.0" y="467.5" text-anchor="middle">08:00</text>
<text x="692.3" y="467.5" text-anchor="middle">12:00</text>
<text x="741.6" y="467.5" text-anchor="middle">16:00</text>
<text x="790.9" y="467.5" text-anchor="middle">20:00</text>
<text x="840.2" y="467.5" text-anchor="middle" style="font-weight:bold;font-size:12px">22</text>
<text x="889.6" y="467.5" text-anchor="middle">04:00</text>
<path d="M51.25 453v4 M100.56 453v4 M149.88 453v4 M199.19 453v4 M248.50 453v4 M297.81 453v4 M347.12 453v4 M396.44 453v4 M445.75 453v4 M495.06 453v4 M544.38 453v4 M593.69 453v4 M643.00 453v4 M692.31 453v4 M741.62 453v4 M790.94 453v4 M840.25 453v4 M889.56 453v4" stroke="#999" stroke-width="1"/>
<rect x="21.5" y="73.5" width="50" height="17.9" fill="#f1f4f6" stroke="#b0b4b7" stroke-width="1"/>
<text x="25" y="86">Price</text>
<g transform="translate(54.6,75.6)" fill="#fff" stroke="#111" stroke-width="1.05" stroke-linejoin="round"><path d="M0.9 11 L5.7 6.3 C5 4.3 5.7 2.4 7.5 1.3 C8.6 0.7 9.8 0.6 10.7 0.9 L8.5 3.5 L9.1 5.6 L11.2 6.2 L13.4 3.6 C13.8 5.6 13.1 7.7 11.3 8.7 C10.1 9.4 9.1 9.4 8 9.1 L3.5 13.6 C2.7 14.4 1.6 14.3 0.9 13.6 C0.2 12.9 0.2 11.8 0.9 11Z"/></g>
<text x="76" y="86">Bid : 6,641.4 Ask : 6,646.4</text>
<text x="23.8" y="451" style="font-size:11.1px">© IT-Finance.com</text><text x="117.3" y="451" style="font-style:italic">Data is indicative</text>
<text x="366.5" y="30">UKX - FTSE 100 (DFB)</text>
<text x="492" y="30">6,643.9 (+0.05%)</text>
<text x="588" y="30">30 minutes</text>
<text x="647" y="30">Jan 21 2015 06:39</text>
<path d="M349.4 23V34M357.6 18V34" stroke="#c03030" stroke-width="1"/>
<path d="M357.6 18V34" stroke="#18a018" stroke-width="1.1"/>
<rect x="346.5" y="25.3" width="5.9" height="6.2" fill="#f08080" stroke="#c83030" stroke-width="1"/>
<rect x="354.6" y="21.2" width="6" height="9.2" fill="#6be06b" stroke="#18a018" stroke-width="1"/>
<g stroke="#a4a8ab" fill="none" stroke-width="1.4"><path d="M24.6 22.5L32.6 30.5M32.6 22.5L24.6 30.5" stroke-width="2"/><rect x="41.6" y="23" width="8" height="7.5" stroke-width="1.1"/><path d="M41 22.8H50.2" stroke-width="1.8"/><path d="M58 30.2H67" stroke-width="1.8"/></g>
<defs><linearGradient id="gb" x1="0" y1="0" x2="0" y2="1"><stop offset="0" stop-color="#ffffff"/><stop offset="0.55" stop-color="#f4f4f4"/><stop offset="0.56" stop-color="#e2e2e2"/><stop offset="1" stop-color="#ececec"/></linearGradient></defs>
<rect x="791.5" y="41.3" width="49" height="27" rx="3" fill="url(#gb)" stroke="#b3b6b8" stroke-width="1"/>
<g transform="translate(770,36) scale(0.0969)"><path d="M250 190 L300 225 L330 235 L420 150 L450 140 L480 160 L540 215 L590 180 L640 120 L690 105 L700 105 L700 165 L660 120 L600 190 L545 215 L500 260 L470 215 L450 150 L420 110 L400 105 L300 215 L250 265Z" fill="#c9f0c9" opacity="0.9"/><path d="M300 215 L400 105 L420 110 L450 150 L420 150 L330 235Z" fill="#f8cfd3"/><path d="M545 215 L600 100 L630 85 L650 100 L660 120 L600 190 Z" fill="#f8cfd3"/><path d="M250 265 L300 215 L400 105 L420 110 L450 150 L470 215 L500 260 L545 215 L570 185 L600 100 L630 85 L650 100 L665 130 L695 165" fill="none" stroke="#c81414" stroke-width="9"/><path d="M250 190 L300 225 L330 235 L420 150 L450 140 L480 160 L540 215 L590 180 L640 120 L690 105 L705 105" fill="none" stroke="#12a412" stroke-width="9"/><path d="M290 85 L328 122 L290 160 L252 122Z" fill="#fff" stroke="#1030c8" stroke-width="12"/><path d="M290 100V144M268 122H312" stroke="#fff" stroke-width="14"/><path d="M415 180 L445 212 L430 212 L430 245 L400 245 L400 212 L385 212Z" fill="#10b010"/><path d="M655 172 L685 204 L670 204 L670 237 L640 237 L640 204 L625 204Z" fill="#10b010"/><path d="M532 165 L562 133 L547 133 L547 102 L517 102 L517 133 L502 133Z" fill="#e81820"/><rect x="280" y="288" width="38" height="12" fill="#18b018"/><rect x="332" y="280" width="38" height="20" fill="#e03030"/><rect x="383" y="280" width="38" height="20" fill="#18b018"/><rect x="435" y="268" width="38" height="32" fill="#18b018"/><rect x="487" y="280" width="38" height="20" fill="#e03030"/><rect x="538" y="250" width="38" height="50" fill="#18b018"/><rect x="590" y="270" width="38" height="30" fill="#18b018"/><rect x="642" y="290" width="38" height="10" fill="#e03030"/><path d="M248 303H702" stroke="#1818d8" stroke-width="10"/></g>
<defs><linearGradient id="gs" x1="0" y1="0" x2="0" y2="1"><stop offset="0" stop-color="#ffffff"/><stop offset="1" stop-color="#e6edf1"/></linearGradient><linearGradient id="gt" x1="0" y1="0" x2="0" y2="1"><stop offset="0" stop-color="#e3eaee"/><stop offset="1" stop-color="#f2f6f8"/></linearGradient></defs>
<rect x="134.5" y="481.5" width="763.5" height="15" rx="3" fill="url(#gt)" stroke="#b3b7ba" stroke-width="1"/>
<rect x="134.5" y="481.5" width="14" height="15" rx="3" fill="url(#gs)" stroke="#b3b7ba" stroke-width="1"/>
<rect x="883.5" y="481.5" width="14.5" height="15" rx="3" fill="url(#gs)" stroke="#b3b7ba" stroke-width="1"/>
<rect x="523.7" y="481.5" width="359" height="15" rx="3" fill="url(#gs)" stroke="#b3b7ba" stroke-width="1"/>
<path d="M144 485.6V492.6L139.5 489.1Z M888.5 485.6V492.6L893 489.1Z" fill="#000"/>
<path d="M699.5 487.3H705.5M699.5 489.3H705.5M699.5 491.3H705.5" stroke="#999" stroke-width="0.8"/>
<defs><linearGradient id="ga" x1="0" y1="0" x2="1" y2="1"><stop offset="0" stop-color="#7ae87a"/><stop offset="1" stop-color="#189a18"/></linearGradient></defs>
<g transform="translate(14,470) scale(0.1259)"><rect x="107" y="104" width="120" height="99" fill="#fff" stroke="#7d9df0" stroke-width="7"/><path d="M103 103H231" stroke="#2a4fd8" stroke-width="15"/><path d="M120 192 L150 150 L165 172 L195 135" stroke="#e02020" stroke-width="6" fill="none"/><path d="M113 198 L158 145 L180 160 L210 125" stroke="#18a018" stroke-width="6" fill="none"/><path d="M132 158 C138 118 162 100 196 101 L188 72 L247 110 L207 156 L200 130 C172 130 150 138 132 158Z" fill="url(#ga)" stroke="#1a9a1a" stroke-width="4"/><path d="M186 193 H244 L215 218Z" fill="#000"/></g>
<g transform="translate(14,470) scale(0.1259)" fill="none" stroke="#000" stroke-width="10"><path d="M358 136 C354 134 353 130 353 126 V106 C353 91 365 82 380 82 C395 82 407 91 407 106 V126 C407 130 406 134 402 136"/><path d="M358 162 C354 164 353 168 353 172 V192 C353 207 365 216 380 216 C395 216 407 207 407 192 V172 C407 168 406 164 402 162"/><path d="M380 106V142M380 158V194"/><path d="M414 194 H464 L439 215Z" fill="#000" stroke="none"/></g>
<g transform="translate(14,470) scale(0.1259)"><rect x="567" y="100" width="98" height="112" fill="#fff" stroke="#000" stroke-width="11"/><path d="M578 120H622M588 140H650M600 160H658M612 180H658" stroke="#000" stroke-width="11"/><path d="M573 104 L658 204" stroke="#000" stroke-width="9"/><path d="M616 98 H664 L640 126Z" fill="#e86a78"/><path d="M570 210 H616 L593 181Z" fill="#3cc83c"/></g>
<g transform="translate(14,470) scale(0.1259)" stroke="#6e6e6e" stroke-width="9" paint-order="stroke" stroke-linejoin="round"><rect x="778" y="94" width="55" height="17" fill="#3cc83c"/><rect x="848" y="94" width="38" height="17" fill="#f07878"/><rect x="798" y="118" width="35" height="17" fill="#3cc83c"/><rect x="848" y="118" width="56" height="17" fill="#f07878"/><rect x="778" y="142" width="55" height="17" fill="#3cc83c"/><rect x="848" y="142" width="42" height="17" fill="#f07878"/><rect x="808" y="166" width="25" height="17" fill="#3cc83c"/><rect x="848" y="166" width="56" height="17" fill="#f07878"/><rect x="778" y="190" width="55" height="17" fill="#3cc83c"/><rect x="848" y="190" width="24" height="17" fill="#f07878"/></g>
<defs><radialGradient id="gl" cx="0.4" cy="0.35" r="0.7"><stop offset="0" stop-color="#ffffff"/><stop offset="1" stop-color="#b8b8b8"/></radialGradient></defs>
<g transform="translate(890,470) scale(0.1259)"><path d="M146 150V228M210 72V228" stroke="#444" stroke-width="6"/><rect x="126" y="158" width="40" height="52" fill="#f06a6a" stroke="#666" stroke-width="5"/><rect x="190" y="95" width="44" height="118" fill="#4cc84c" stroke="#666" stroke-width="5"/><path d="M136 208 L186 152 C180 134 188 116 204 108 L220 104 L206 124 L212 138 L228 140 L241 124 C244 142 236 156 220 162 L206 164 L152 222 C142 228 130 220 136 208Z" fill="#fff" stroke="#555" stroke-width="4"/><circle cx="385" cy="130" r="38" fill="url(#gl)" stroke="#000" stroke-width="9"/><path d="M418 162 L466 208" stroke="#000" stroke-width="23" stroke-linecap="round"/><path d="M466 100V160M451 112L466 93L481 112M451 148L466 167L481 148" stroke="#1010f0" stroke-width="9" fill="none"/><path d="M345 205H402M360 190L340 205L360 220M388 190L408 205L388 220" stroke="#1010f0" stroke-width="9" fill="none"/><circle cx="605" cy="128" r="39" fill="#fff" stroke="#000" stroke-width="9"/><path d="M583 128H627" stroke="#1010f0" stroke-width="12"/><path d="M640 164 L686 208" stroke="#000" stroke-width="25" stroke-linecap="round"/><circle cx="828" cy="128" r="39" fill="#fff" stroke="#000" stroke-width="9"/><path d="M806 128H850M828 106V150" stroke="#1010f0" stroke-width="12"/><path d="M863 164 L909 208" stroke="#000" stroke-width="25" stroke-linecap="round"/></g>
</svg></body></html>
